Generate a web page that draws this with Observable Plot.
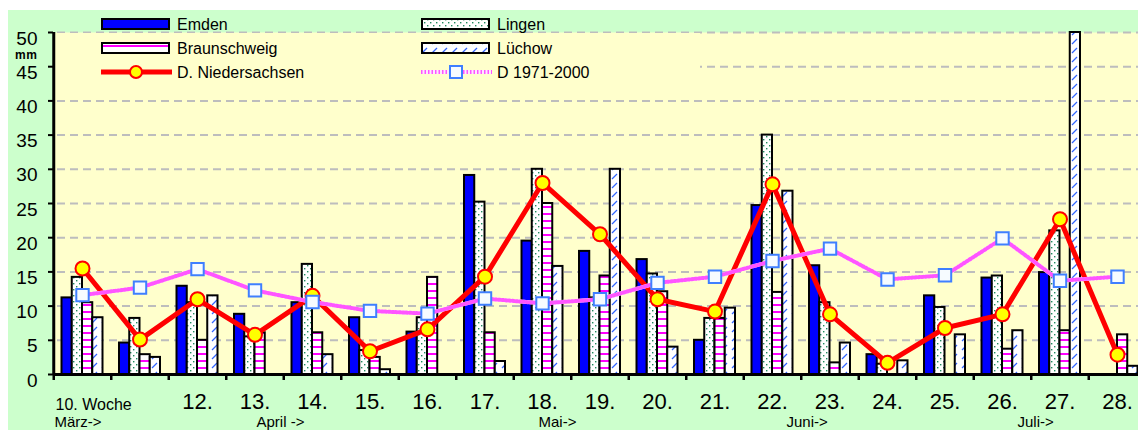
<!DOCTYPE html>
<html><head><meta charset="utf-8">
<script src="https://cdn.jsdelivr.net/npm/d3@7"></script>
<script src="https://cdn.jsdelivr.net/npm/@observablehq/plot@0.6"></script>
<style>
html,body{margin:0;padding:0;background:#fff;overflow:hidden;}
#wrap{position:relative;width:1138px;height:430px;overflow:hidden;}
#bg{position:absolute;left:8px;top:10px;width:1130px;height:420px;background:#ccffcc;}
#chart{position:absolute;left:0;top:0;}
</style>
</head><body>
<div id="wrap"><div id="bg"></div><div id="chart"></div></div>
<script>
// ---- data ----
const weeks = [10,11,12,13,14,15,16,17,18,19,20,21,22,23,24,25,26,27,28];
const weekLabels = ["10. Woche","","12.","13.","14.","15.","16.","17.","18.","19.","20.","21.","22.","23.","24.","25.","26.","27.","28."];
const stations = ["Emden","Lingen","Braunschweig","Lüchow"];
const emden        = [11.2,4.6,12.9,8.8,10.5,8.3,6.2,29.1,19.5,18.0,16.8,5.0,24.7,15.9,2.9,11.5,14.1,14.9,0];
const lingen       = [14.2,8.2,10.5,5.5,16.1,3.5,8.3,25.2,30.0,11.2,14.7,8.2,35.0,10.5,1.5,9.8,14.4,21.0,0];
const braunschweig = [10.5,2.9,5.0,6.1,6.1,2.5,14.2,6.1,25.0,14.4,12.1,8.2,12.0,1.7,0,0,3.7,6.4,5.8];
const luechow      = [8.3,2.5,11.5,0,2.9,0.7,0,1.9,15.8,30.0,4.0,9.7,26.8,4.6,2.0,5.8,6.4,50,1.2];
const lineNames = ["D. Niedersachsen","D 1971-2000"];
const niedersachsen = [15.5,5.1,11.0,5.8,11.5,3.4,6.6,14.3,28.0,20.5,11.0,9.2,27.8,8.8,1.7,6.8,8.8,22.7,2.9];
const mittel7100    = [11.6,12.7,15.4,12.3,10.6,9.3,8.9,11.1,10.4,11.0,13.4,14.3,16.6,18.4,13.9,14.5,19.9,13.7,14.3];
const yTicks = [0,5,10,15,20,25,30,35,40,45,50];
const monthLabels = ["März->","April ->","Mai->","Juni->","Juli->"];
const monthWeeks = [10,13,18,23,27];
const yUnit = "mm";

// ---- build tables ----
const series = [emden, lingen, braunschweig, luechow];
const stationRows = series.map(arr => weeks.map((w,i)=>({week:w, value:arr[i]})).filter(d=>d.value>0));
const nsRows = weeks.map((w,i)=>({week:w, value:niedersachsen[i]}));
const mRows = weeks.map((w,i)=>({week:w, value:mittel7100[i]}));
const labelOf = Object.fromEntries(weeks.map((w,i)=>[w, weekLabels[i]]));

const fills = ["#0000ff","url(#pLingen)","url(#pBraun)","url(#pLuechow)"];
const step = 57.5, half = step/2, barW = 10.25, barOff = 8.25;
const narrow = "'Liberation Sans Narrow','Arial Narrow','Liberation Sans',Arial,sans-serif";
const sans = "'Liberation Sans',Arial,sans-serif";
const monthDx = [-28, 1.5, -4, -43.5, -42.5];
const pinkBase = "#ffe8ff", pinkDot = "#ff55ff";

const barMarks = stationRows.map((rows,i)=>Plot.barY(rows, {
  x:"week", y:"value", fill: fills[i], stroke:"#000", strokeWidth:2,
  insetLeft: barOff + barW*i, insetRight: step - (barOff + barW*(i+1))
}));

const chart = Plot.plot({
  width:1138, height:430,
  marginLeft:53, marginRight:0, marginTop:32, marginBottom:56,
  x:{type:"band", domain:weeks, range:[53.25, 53.25 + step*weeks.length], padding:0, round:false, axis:null},
  y:{domain:[0,50], axis:null},
  style:{background:"transparent", fontFamily:sans, overflow:"visible"},
  marks:[
    Plot.frame({fill:"#ffffcc", stroke:null}),
    Plot.ruleY(yTicks.slice(1), {y:d=>d, stroke:"#bdbdbd", strokeWidth:2, strokeDasharray:"8,5", insetLeft:4}),
    ...barMarks,
    Plot.line(nsRows, {x:"week", y:"value", stroke:"#ff0000", strokeWidth:5}),
    Plot.dot(nsRows, {x:"week", y:"value", r:7, fill:"#ffff00", stroke:"#ff0000", strokeWidth:2}),
    Plot.line(mRows, {x:"week", y:"value", stroke:pinkBase, strokeWidth:4}),
    Plot.line(mRows, {x:"week", y:"value", stroke:pinkDot, strokeWidth:4, strokeDasharray:"1.5,2"}),
    Plot.dot(mRows, {x:"week", y:"value", symbol:"square", r:7, fill:"#f6fbff", stroke:"#3f7fff", strokeWidth:2}),
    // axes
    Plot.ruleY([0], {y:d=>d, stroke:"#000", strokeWidth:3}),
    Plot.ruleX(weeks, {x:d=>d, dx:-half, y1:0, y2:0, insetBottom:-6, stroke:"#000", strokeWidth:2.5}),
    Plot.ruleX([weeks[0]], {x:d=>d, dx:-half, stroke:"#000", strokeWidth:3}),
    Plot.ruleY(yTicks, {y:d=>d, insetLeft:-5, insetRight:1138-53, stroke:"#000", strokeWidth:2}),
    Plot.text(yTicks, {y:d=>d, text:d=>String(d), frameAnchor:"left", textAnchor:"end", dx:-16, dy:6, fontSize:19, fontFamily:narrow, fill:"#000"}),
    Plot.text(weeks.slice(1), {x:d=>d, text:d=>labelOf[d], frameAnchor:"bottom", lineAnchor:"bottom", dy:34, fontSize:22, fontFamily:narrow, fill:"#000"}),
    Plot.text([weeks[0]], {x:d=>d, text:d=>labelOf[d], frameAnchor:"bottom", lineAnchor:"bottom", textAnchor:"start", dx:-27, dy:35, fontSize:16, fontFamily:sans, fill:"#000"}),
    ...monthLabels.map((m,i)=>Plot.text([monthWeeks[i]], {x:d=>d, text:()=>m, frameAnchor:"bottom", lineAnchor:"bottom", textAnchor:"start", dx:monthDx[i], dy:52, fontSize:15, fontFamily:sans, fill:"#000"}))
  ]
});
document.getElementById("chart").appendChild(chart);

// ---- patterns ----
const svg = d3.select(chart);
const defs = svg.insert("defs", ":first-child");
const pL = defs.append("pattern").attr("id","pLingen").attr("patternUnits","userSpaceOnUse").attr("width",6).attr("height",6);
pL.append("rect").attr("width",6).attr("height",6).attr("fill","#fff");
pL.append("rect").attr("x",1).attr("y",1).attr("width",1.4).attr("height",1.4).attr("fill","#1f8a5e");
pL.append("rect").attr("x",4).attr("y",4).attr("width",1.4).attr("height",1.4).attr("fill","#1f8a5e");
const pB = defs.append("pattern").attr("id","pBraun").attr("patternUnits","userSpaceOnUse").attr("width",10).attr("height",7);
pB.append("rect").attr("width",10).attr("height",7).attr("fill","#fff");
pB.append("rect").attr("x",0).attr("y",3).attr("width",10).attr("height",2).attr("fill","#ff00ff");
const pW = defs.append("pattern").attr("id","pLuechow").attr("patternUnits","userSpaceOnUse").attr("width",10).attr("height",9);
pW.append("rect").attr("width",10).attr("height",9).attr("fill","#fff");
pW.append("line").attr("x1",2).attr("y1",8).attr("x2",7).attr("y2",3).attr("stroke","#3366ff").attr("stroke-width",1.2);

// ---- legend ----
const leg = svg.append("g").attr("text-anchor","start");
leg.append("rect").attr("x",56).attr("y",33).attr("width",644).attr("height",54).attr("fill","#ffffcc");
const cols = [101, 421], rows = [24, 48, 72];
const items = [
  {name:stations[0], c:0, r:0, kind:"bar", fill:fills[0]},
  {name:stations[1], c:1, r:0, kind:"bar", fill:fills[1]},
  {name:stations[2], c:0, r:1, kind:"bar", fill:fills[2]},
  {name:stations[3], c:1, r:1, kind:"bar", fill:fills[3]},
  {name:lineNames[0], c:0, r:2, kind:"ns"},
  {name:lineNames[1], c:1, r:2, kind:"m"}
];
items.forEach(it=>{
  const x = cols[it.c], y = rows[it.r];
  if (it.kind==="bar") {
    leg.append("rect").attr("x",x+1).attr("y",y-5).attr("width",67).attr("height",10).attr("fill",it.fill).attr("stroke","#000").attr("stroke-width",2);
  } else if (it.kind==="ns") {
    leg.append("line").attr("x1",x).attr("x2",x+71).attr("y1",y).attr("y2",y).attr("stroke","#ff0000").attr("stroke-width",5);
    leg.append("circle").attr("cx",x+35).attr("cy",y).attr("r",6).attr("fill","#ffff00").attr("stroke","#ff0000").attr("stroke-width",2);
  } else {
    leg.append("line").attr("x1",x).attr("x2",x+71).attr("y1",y).attr("y2",y).attr("stroke",pinkBase).attr("stroke-width",4);
    leg.append("line").attr("x1",x).attr("x2",x+71).attr("y1",y).attr("y2",y).attr("stroke",pinkDot).attr("stroke-width",4).attr("stroke-dasharray","1.5,2");
    leg.append("rect").attr("x",x+29).attr("y",y-6).attr("width",12).attr("height",12).attr("fill","#f6fbff").attr("stroke","#3f7fff").attr("stroke-width",2);
  }
  leg.append("text").attr("x",x+76).attr("y",y+6).attr("font-family",sans).attr("font-size",16).attr("fill","#000").text(it.name);
});
svg.append("text").attr("text-anchor","start").attr("x",15).attr("y",58.5).attr("font-family",sans).attr("font-weight","bold").attr("font-size",12).attr("letter-spacing",0.5).attr("fill","#000").text(yUnit);
</script>
</body></html>
